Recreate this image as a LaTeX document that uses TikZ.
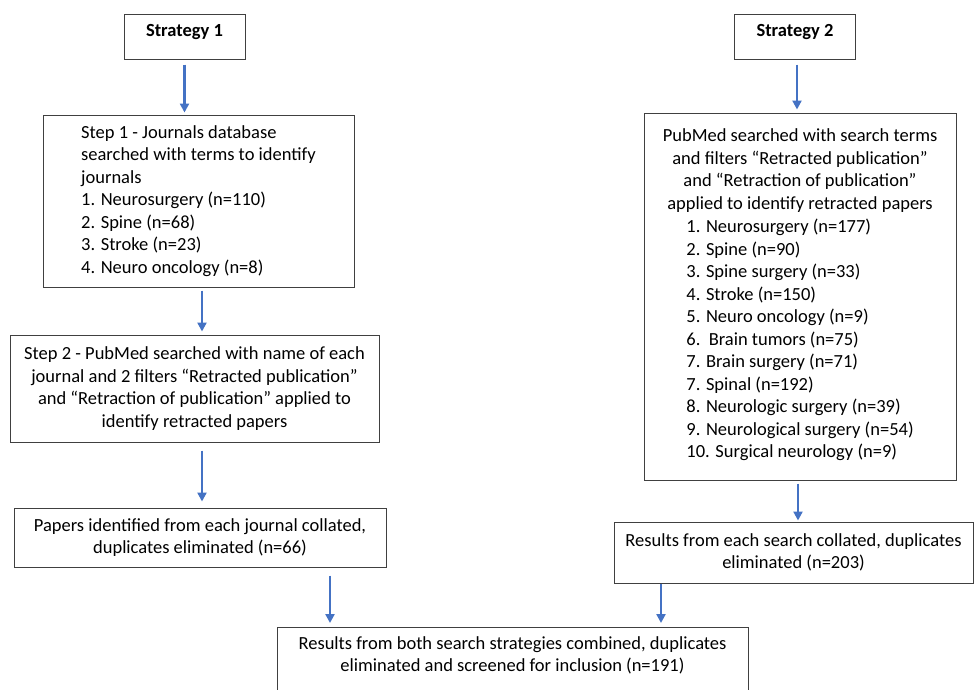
\documentclass[tikz,border=0pt]{standalone}
\usepackage{fontspec}
\setmainfont{Carlito}
\usetikzlibrary{arrows.meta}
\definecolor{flowblue}{HTML}{4472C4}
\definecolor{boxgray}{HTML}{404040}
\tikzset{
  box/.style={draw=boxgray, line width=1pt, inner sep=0pt, font=\fontsize{18.5}{22.5}\selectfont},
  headbox/.style={box, minimum width=121pt, minimum height=45pt, text height=13pt, text depth=14pt, font=\fontsize{18.5}{22.5}\selectfont\bfseries},
  flow/.style={draw=flowblue, line width=2.5pt, -{Triangle[length=9pt,width=9pt]}},
}

\begin{document}
\begin{tikzpicture}[x=1pt,y=-1pt]
	\clip (0,0) rectangle (974,689);
	\fill[white] (0,0) rectangle (974,689);
	% strategy 1 column
	\node[headbox] (strat1) at (184.5,36.5) {Strategy 1};
	\node[box, minimum width=311pt, minimum height=172pt, align=left] (step1) at (198.5,201) {Step 1 - Journals database\\ searched with terms to identify\\ journals\\ 1. Neurosurgery (n=110)\\ 2. Spine (n=68)\\ 3. Stroke (n=23)\\ 4. Neuro oncology (n=8)};
	\node[box, minimum width=369pt, minimum height=107pt, align=center] (step2) at (194.5,388.5) {Step 2 - PubMed searched with name of each\\ journal and 2 filters “Retracted publication”\\ and “Retraction of publication” applied to\\ identify retracted papers};
	\node[box, minimum width=372pt, minimum height=59pt, align=center] (papers) at (200,537.5) {Papers identified from each journal collated,\\ duplicates eliminated (n=66)};
	% strategy 2 column
	\node[headbox] (strat2) at (795,36.5) {Strategy 2};
	\node[box, minimum width=312pt, minimum height=367pt, align=center] (pubmed) at (800,296.5) {PubMed searched with search terms\\ and filters “Retracted publication”\\ and “Retraction of publication”\\ applied to identify retracted papers\\[1pt]
		\begin{tabular}[t]{@{}l@{}}
		1. Neurosurgery (n=177)\\ 2. Spine (n=90)\\ 3. Spine surgery (n=33)\\ 4. Stroke (n=150)\\ 5. Neuro oncology (n=9)\\ 6.\ \ Brain tumors (n=75)\\ 7. Brain surgery (n=71)\\ 7. Spinal (n=192)\\ 8. Neurologic surgery (n=39)\\ 9. Neurological surgery (n=54)\\ 10. Surgical neurology (n=9)
		\end{tabular}};
	\node[box, minimum width=359pt, minimum height=61pt, align=center] (results) at (793.5,552.5) {Results from each search collated, duplicates\\ eliminated (n=203)};
	% combined
	\node[box, anchor=north, minimum width=471pt, inner ysep=6pt] (combined) at (512.5,627) {\begin{tabular}{@{}c@{}}Results from both search strategies combined, duplicates\\ eliminated and screened for inclusion (n=191)\end{tabular}\rule[-40pt]{0pt}{40pt}};
	% arrows
	\draw[flow, shorten <=5pt, shorten >=2pt] (strat1.south) -- (strat1.south |- step1.north);
	\draw[flow, shorten <=3pt, shorten >=3pt] ([xshift=3.5pt]step1.south) -- ([xshift=3.5pt]step1.south |- step2.north);
	\draw[flow, shorten <=8pt, shorten >=6pt] ([xshift=7.5pt]step2.south) -- ([xshift=7.5pt]step2.south |- papers.north);
	\draw[flow, shorten <=8pt, shorten >=4pt] ([xshift=130pt]papers.south) -- ([xshift=130pt]papers.south |- combined.north);
	\draw[flow, shorten <=5pt, shorten >=3pt] ([xshift=2pt]strat2.south) -- ([xshift=2pt]strat2.south |- pubmed.north);
	\draw[flow, shorten <=3pt, shorten >=1pt] ([xshift=-2pt]pubmed.south) -- ([xshift=-2pt]pubmed.south |- results.north);
	\draw[flow, shorten <=0pt, shorten >=4pt] ([xshift=-132.5pt]results.south) -- ([xshift=-132.5pt]results.south |- combined.north);
\end{tikzpicture}
\end{document}
